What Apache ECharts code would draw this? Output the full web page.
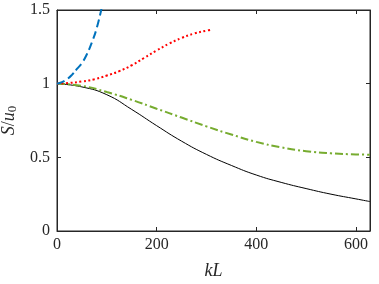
<!DOCTYPE html>
<html>
<head>
<meta charset="utf-8">
<script src="https://cdn.jsdelivr.net/npm/echarts@6/dist/echarts.min.js"></script>
<style>html,body{margin:0;padding:0;background:#fff;}#c{width:379px;height:284px;}</style>
</head>
<body>
<div id="c"></div>
<script>
// Data
const xTicks = [0, 200, 400, 600];
const yTicks = [0, 0.5, 1, 1.5];

const kLBlack = [0, 50, 100, 150, 200, 250, 300, 350, 400, 450, 500, 550, 600, 628];
const sBlack  = [1.0, 0.978, 0.925, 0.825, 0.715, 0.61, 0.52, 0.445, 0.38, 0.33, 0.288, 0.25, 0.218, 0.20];

const kLGreen = [0, 50, 100, 150, 200, 250, 300, 350, 400, 450, 500, 550, 600, 628];
const sGreen  = [1.0, 0.985, 0.943, 0.89, 0.83, 0.77, 0.71, 0.655, 0.605, 0.568, 0.542, 0.527, 0.52, 0.518];

const kLRed = [0, 25, 50, 75, 100, 125, 150, 175, 200, 225, 250, 275, 300, 308];
const sRed  = [1.0, 1.005, 1.015, 1.03, 1.055, 1.085, 1.125, 1.175, 1.225, 1.272, 1.31, 1.34, 1.36, 1.365];

const kLBlue = [0, 10, 20, 30, 40, 50, 60, 70, 80, 90];
const sBlue  = [1.0, 1.01, 1.03, 1.06, 1.1, 1.14, 1.2, 1.28, 1.38, 1.52];

function pairs(xs, ys) { return xs.map((x, i) => [x, ys[i]]); }

const font = "'Liberation Serif', 'Times New Roman', serif";
const axisColor = '#262626';

const chart = echarts.init(document.getElementById('c'), null, {renderer: 'canvas'});
chart.setOption({
  animation: false,
  backgroundColor: '#fff',
  grid: {left: 57, right: 9, top: 10, bottom: 53, containLabel: false, outerBoundsMode: 'none',
    show: true, borderColor: axisColor, borderWidth: 1, backgroundColor: 'transparent'},
  xAxis: [{
    type: 'value', min: 0, max: 628.3, interval: 200,
    axisLine: {onZero: false, lineStyle: {color: axisColor, width: 1}},
    axisTick: {inside: true, length: 4, lineStyle: {color: axisColor}},
    axisLabel: {color: axisColor, fontFamily: font, fontSize: 16, margin: 6,
      formatter: v => xTicks.includes(v) ? String(v) : ''},
    splitLine: {show: false},
    name: 'kL', nameLocation: 'middle', nameGap: 31,
    nameTextStyle: {fontFamily: font, fontStyle: 'italic', fontSize: 18, color: axisColor}
  }, {
    type: 'value', position: 'top', min: 0, max: 628.3, interval: 200,
    axisLine: {show: true, onZero: false, lineStyle: {color: axisColor, width: 1}},
    axisTick: {show: true, inside: true, length: 4, lineStyle: {color: axisColor}},
    axisLabel: {show: false}, splitLine: {show: false}
  }],
  yAxis: [{
    type: 'value', min: 0, max: 1.5, interval: 0.5,
    axisLine: {show: true, onZero: false, lineStyle: {color: axisColor, width: 1}},
    axisTick: {show: true, inside: true, length: 4, lineStyle: {color: axisColor}},
    axisLabel: {color: axisColor, fontFamily: font, fontSize: 16, margin: 7,
      formatter: v => yTicks.includes(v) ? String(v) : ''},
    splitLine: {show: false},
    name: '{i|S}{n|/}{i|u}{s|0}', nameLocation: 'middle', nameGap: 33, nameRotate: 90,
    nameTextStyle: {
      color: axisColor,
      rich: {
        i: {fontFamily: font, fontStyle: 'italic', fontSize: 18, color: axisColor},
        n: {fontFamily: font, fontSize: 18, color: axisColor},
        s: {fontFamily: font, fontSize: 13, color: axisColor, verticalAlign: 'bottom', padding: [6, 0, 0, 0]}
      }
    }
  }, {
    type: 'value', position: 'right', min: 0, max: 1.5, interval: 0.5,
    axisLine: {show: true, onZero: false, lineStyle: {color: axisColor, width: 1}},
    axisTick: {show: true, inside: true, length: 4, lineStyle: {color: axisColor}},
    axisLabel: {show: false}, splitLine: {show: false}
  }],
  series: [{
    type: 'line', data: pairs(kLBlack, sBlack), smooth: true, showSymbol: false, clip: true,
    lineStyle: {color: '#000000', width: 1, type: 'solid'}
  }, {
    type: 'line', data: pairs(kLGreen, sGreen), smooth: true, showSymbol: false, clip: true,
    lineStyle: {color: '#77AC30', width: 2, type: [8, 3, 2, 3]}
  }, {
    type: 'line', data: pairs(kLRed, sRed), smooth: true, showSymbol: false, clip: true,
    lineStyle: {color: '#FF0000', width: 2, type: [2, 2.5]}
  }, {
    type: 'line', data: pairs(kLBlue, sBlue), smooth: true, showSymbol: false, clip: true,
    lineStyle: {color: '#0072BD', width: 2, type: [8, 4]}
  }, {
    type: 'line', xAxisIndex: 1, yAxisIndex: 1, data: [], showSymbol: false, silent: true
  }]
});
</script>
</body>
</html>
